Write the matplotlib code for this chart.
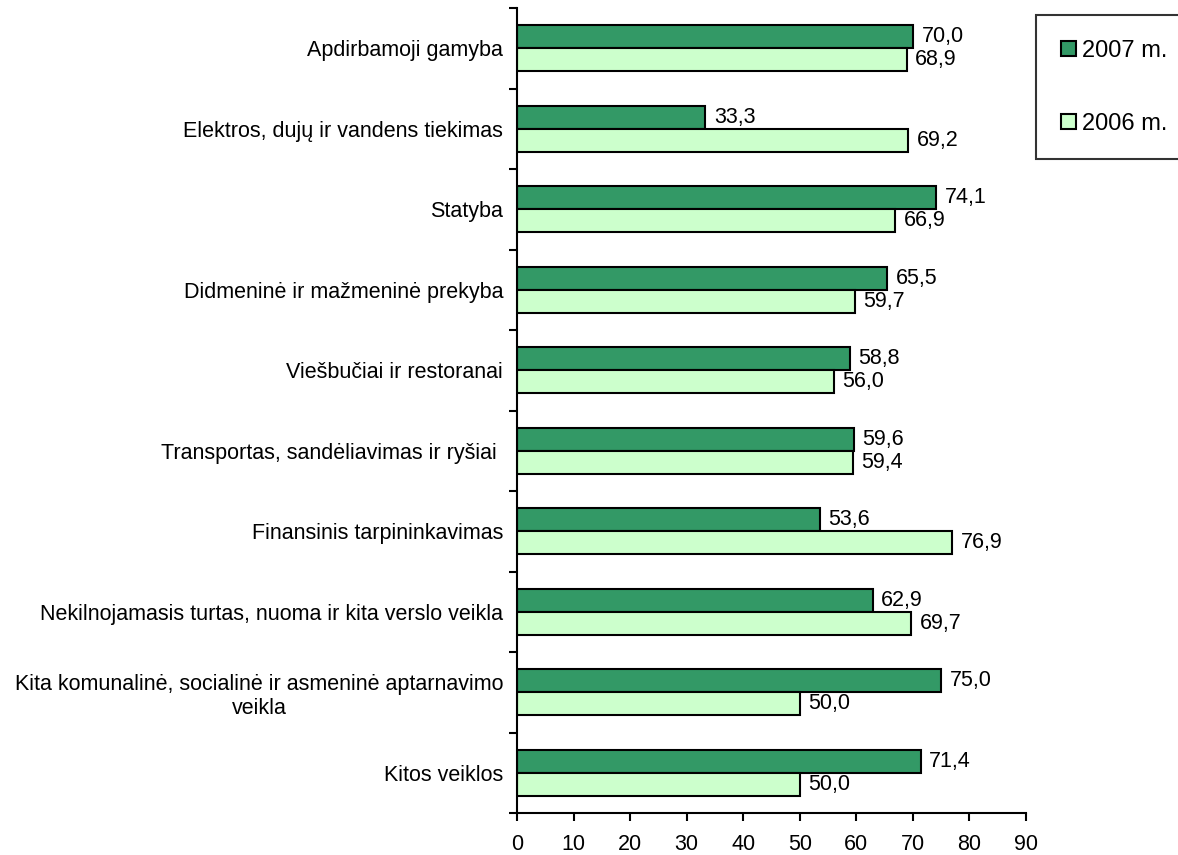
import matplotlib.pyplot as plt
import numpy as np

plt.rcParams['font.family'] = ['Liberation Sans', 'DejaVu Sans']

categories = [
    "Apdirbamoji gamyba",
    "Elektros, dujų ir vandens tiekimas",
    "Statyba",
    "Didmeninė ir mažmeninė prekyba",
    "Viešbučiai ir restoranai",
    "Transportas, sandėliavimas ir ryšiai ",
    "Finansinis tarpininkavimas",
    "Nekilnojamasis turtas, nuoma ir kita verslo veikla",
    "Kita komunalinė, socialinė ir asmeninė aptarnavimo\nveikla",
    "Kitos veiklos",
]
values_2007 = [70.0, 33.3, 74.1, 65.5, 58.8, 59.6, 53.6, 62.9, 75.0, 71.4]
values_2006 = [68.9, 69.2, 66.9, 59.7, 56.0, 59.4, 76.9, 69.7, 50.0, 50.0]
x_ticks = [0, 10, 20, 30, 40, 50, 60, 70, 80, 90]

fs = 15.5

fig = plt.figure(figsize=(11.78, 8.55), dpi=100)
ax = fig.add_axes([0.4389, 0.0491, 0.4321, 0.9415])

y = np.arange(len(categories))
h = 0.285
b07 = ax.barh(y - h / 2, values_2007, height=h, color='#339966',
              edgecolor='black', linewidth=1.5, label='2007 m.')
b06 = ax.barh(y + h / 2, values_2006, height=h, color='#CCFFCC',
              edgecolor='black', linewidth=1.5, label='2006 m.')

# value labels just past the end of each bar, decimal comma
for bars, vals in ((b07, values_2007), (b06, values_2006)):
    for bar, v in zip(bars, vals):
        ax.text(v + 1.5, bar.get_y() + bar.get_height() / 2,
                f"{v:.1f}".replace('.', ','), va='center', ha='left',
                fontsize=fs)

ax.set_ylim(len(categories) - 0.5, -0.5)
ax.set_xlim(0, 90)
ax.set_xticks(x_ticks)
ax.set_xticklabels([str(t) for t in x_ticks], fontsize=fs)

ax.set_yticks(y)
ax.set_yticklabels(categories, fontsize=fs, multialignment='center')
ax.tick_params(axis='y', which='major', length=0, pad=10)
# tick marks between the categories
ax.set_yticks(np.arange(-0.5, len(categories)), minor=True)
ax.tick_params(axis='y', which='minor', length=6, width=1.5, direction='out')
ax.tick_params(axis='x', length=6, width=1.5, direction='out', pad=9)

for side in ('top', 'right'):
    ax.spines[side].set_visible(False)
for side in ('left', 'bottom'):
    ax.spines[side].set_linewidth(1.5)

leg = fig.legend(handles=[b07, b06], loc='upper left',
                 bbox_to_anchor=(1036 / 1178, 1 - 15 / 855),
                 borderaxespad=0,
                 fontsize=17, frameon=True, fancybox=False,
                 edgecolor='black', borderpad=1.05, labelspacing=2.15,
                 handlelength=0.63, handleheight=0.63, handletextpad=0.25)
leg.get_frame().set_linewidth(1.5)

fig.savefig('out.png', dpi=100)
